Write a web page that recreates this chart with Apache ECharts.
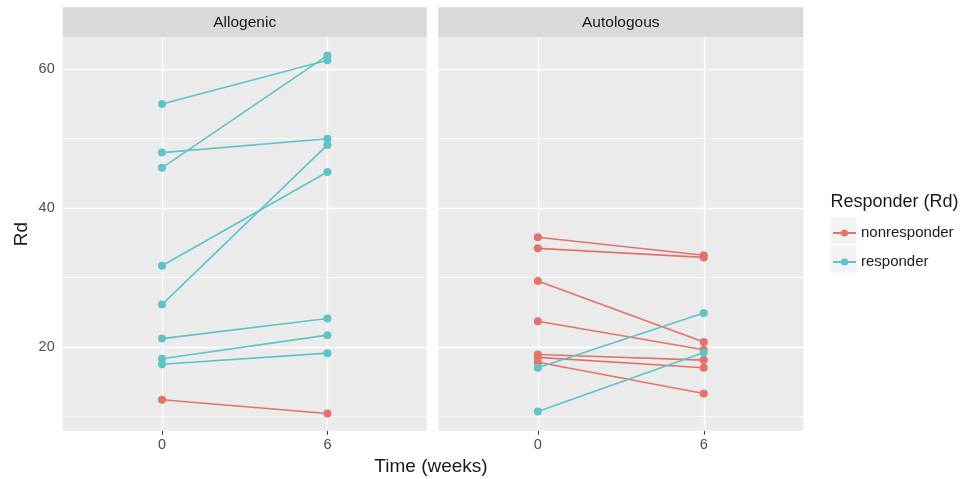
<!DOCTYPE html>
<html>
<head>
<meta charset="utf-8">
<script src="https://cdn.jsdelivr.net/npm/echarts@6/dist/echarts.min.js"></script>
<style>html,body{margin:0;padding:0;background:#fff}#c{width:963px;height:479px}</style>
</head>
<body>
<div id="c"></div>
<script>
// ---- data ----
var panels = ['Allogenic', 'Autologous'];
var groups = ['nonresponder', 'responder'];
var weeks = [0, 6];
var xTicks = [0, 6];
var yTicks = [20, 40, 60];
var yMinor = [10, 30, 50];
// Allogenic
var alloRespW0 = [55.0, 48.0, 45.8, 31.7, 26.1, 21.2, 18.3, 17.5];
var alloRespW6 = [61.3, 50.0, 62.0, 45.2, 49.1, 24.1, 21.7, 19.1];
var alloNonW0 = [12.4];
var alloNonW6 = [10.4];
// Autologous
var autoNonW0 = [35.8, 34.2, 29.5, 23.7, 18.9, 18.5, 17.8];
var autoNonW6 = [33.2, 32.9, 20.7, 19.6, 18.1, 17.0, 13.3];
var autoRespW0 = [17.0, 10.7];
var autoRespW6 = [24.9, 19.2];

var colors = { nonresponder: '#E3736A', responder: '#5FC3C7' };
var FONT = 'Liberation Sans, Arial, Helvetica, sans-serif';

var chart = echarts.init(document.getElementById('c'), null, { renderer: 'canvas' });

var gridTop = 37.3, gridH = 393.4;
var grids = [
  { left: 62.7, top: gridTop, width: 364, height: gridH, show: true, backgroundColor: '#EBEBEB', borderWidth: 0 },
  { left: 438.3, top: gridTop, width: 365, height: gridH, show: true, backgroundColor: '#EBEBEB', borderWidth: 0 }
];

var xAxes = grids.map(function (g, i) {
  return {
    type: 'value', gridIndex: i, min: -3.6, max: 9.6,
    axisLine: { show: false },
    axisTick: { show: true, length: 4, lineStyle: { color: '#333', width: 1 }, customValues: xTicks },
    axisLabel: { show: true, color: '#4D4D4D', fontSize: 14.5, fontFamily: FONT, margin: 7, customValues: xTicks },
    splitLine: { show: false }
  };
});
var yAxes = grids.map(function (g, i) {
  return {
    type: 'value', gridIndex: i, min: 7.93, max: 64.61,
    axisLine: { show: false },
    axisTick: { show: i === 0, length: 4, lineStyle: { color: '#333', width: 1 }, customValues: yTicks },
    axisLabel: { show: i === 0, color: '#4D4D4D', fontSize: 14.5, fontFamily: FONT, margin: 8, customValues: yTicks },
    splitLine: { show: false },
    name: i === 0 ? 'Rd' : '',
    nameLocation: 'middle', nameRotate: 90, nameGap: 31,
    nameTextStyle: { color: '#1A1A1A', fontSize: 19, fontFamily: FONT }
  };
});

var series = [];
// gridline series per panel
[0, 1].forEach(function (i) {
  var ml = [];
  yMinor.forEach(function (v) { ml.push({ yAxis: v, lineStyle: { color: '#FFFFFF', width: 0.7, type: 'solid' } }); });
  yTicks.forEach(function (v) { ml.push({ yAxis: v, lineStyle: { color: '#FFFFFF', width: 1.4, type: 'solid' } }); });
  xTicks.forEach(function (v) { ml.push({ xAxis: v, lineStyle: { color: '#FFFFFF', width: 1.4, type: 'solid' } }); });
  series.push({
    type: 'line', xAxisIndex: i, yAxisIndex: i, data: [], z: 1, silent: true,
    markLine: { silent: true, z: 1, zlevel: 0, symbol: 'none', label: { show: false }, animation: false, data: ml }
  });
});

function addLines(panel, group, w0, w6) {
  for (var k = 0; k < w0.length; k++) {
    series.push({
      name: group, type: 'line', xAxisIndex: panel, yAxisIndex: panel,
      data: [[weeks[0], w0[k]], [weeks[1], w6[k]]],
      symbol: 'circle', symbolSize: 8, showSymbol: true,
      itemStyle: { color: colors[group] },
      lineStyle: { color: colors[group], width: 1.6 },
      z: 10, animation: false
    });
  }
}
addLines(0, 'responder', alloRespW0, alloRespW6);
addLines(0, 'nonresponder', alloNonW0, alloNonW6);
addLines(1, 'nonresponder', autoNonW0, autoNonW6);
addLines(1, 'responder', autoRespW0, autoRespW6);

var graphics = [];
grids.forEach(function (g, i) {
  graphics.push({ type: 'rect', shape: { x: g.left, y: 7.3, width: g.width, height: 30 }, style: { fill: '#D9D9D9' }, z: 0 });
  graphics.push({ type: 'text', x: g.left + g.width / 2, y: 22.3, style: { text: panels[i], fill: '#1A1A1A', fontSize: 15.5, fontFamily: FONT, textAlign: 'center', textVerticalAlign: 'middle' }, z: 1 });
});
// legend key backgrounds
graphics.push({ type: 'rect', shape: { x: 830.5, y: 217, width: 26, height: 27 }, style: { fill: '#F2F2F2' }, z: 0 });
graphics.push({ type: 'rect', shape: { x: 830.5, y: 245.5, width: 26, height: 27 }, style: { fill: '#F2F2F2' }, z: 0 });
// x axis title
graphics.push({ type: 'text', x: 431, y: 467, style: { text: 'Time (weeks)', fill: '#1A1A1A', fontSize: 19, fontFamily: FONT, textAlign: 'center', textVerticalAlign: 'middle' } });
// legend title
graphics.push({ type: 'text', x: 830.5, y: 202, style: { text: 'Responder (Rd)', fill: '#1A1A1A', fontSize: 18, fontFamily: FONT, textAlign: 'left', textVerticalAlign: 'middle' } });

chart.setOption({
  animation: false,
  grid: grids,
  xAxis: xAxes,
  yAxis: yAxes,
  series: series,
  graphic: graphics,
  legend: {
    data: groups, orient: 'vertical', left: 827, top: 219.5,
    itemWidth: 23, itemHeight: 9, itemGap: 12,
    textStyle: { color: '#1A1A1A', fontSize: 15, fontFamily: FONT, lineHeight: 17 },
    selectedMode: false
  }
});
</script>
</body>
</html>
